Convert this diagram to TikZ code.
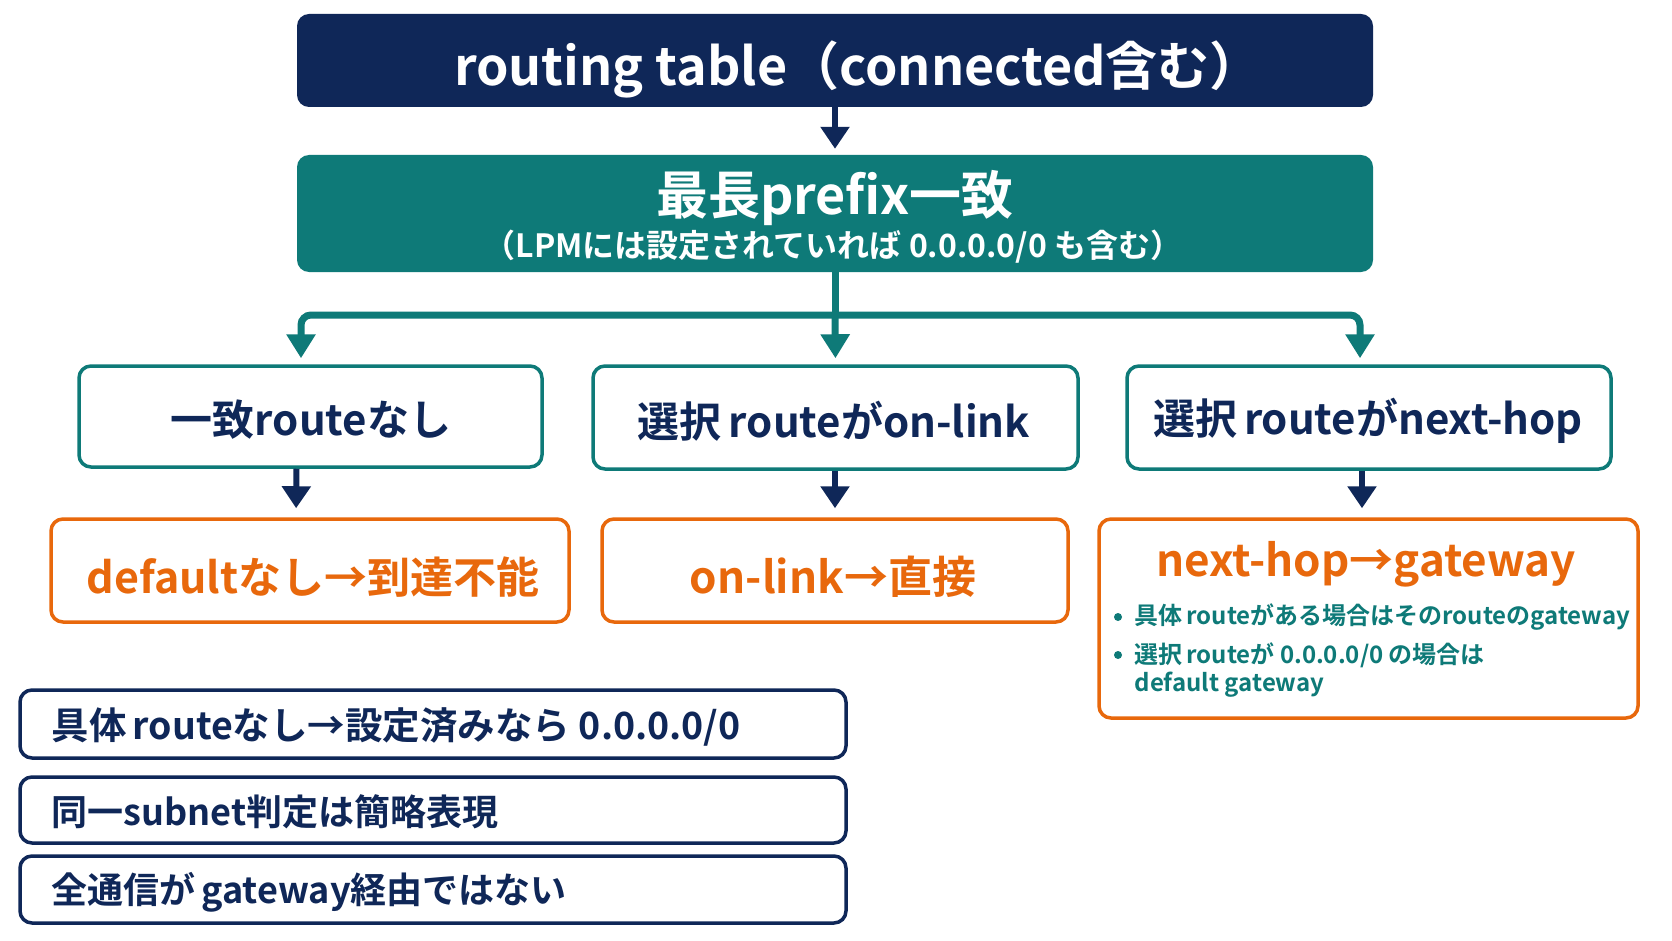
\documentclass[tikz,border=0pt]{standalone}
\usepackage{fontspec}
\setmainfont{Noto Sans CJK JP}[BoldFont={Noto Sans CJK JP Bold}]
\usetikzlibrary{arrows.meta}
\definecolor{navy}{HTML}{0F2758}
\definecolor{tealc}{HTML}{0E7A78}
\definecolor{orng}{HTML}{E8680C}
\tikzset{
  fs/.style={font=\fontsize{#1}{#1}\selectfont\bfseries},
  filledbox/.style={rounded corners=12pt, fill=#1, draw=none, inner sep=0pt},
  outbox/.style={rounded corners=12pt, draw=#1, line width=3.5pt, fill=white, inner sep=0pt},
  tealconn/.style={draw=tealc, line width=7pt},
  tealarrow/.style={draw=tealc, line width=7pt, -{Triangle[width=28pt,length=24pt]}},
  navyarrow/.style={draw=navy, line width=6pt, -{Triangle[width=28pt,length=22pt]}},
}
\begin{document}
\begin{tikzpicture}[x=1pt,y=-1pt]
\useasboundingbox (0,0) rectangle (1672,941);
\fill[white] (0,0) rectangle (1672,941);
% top
\node[filledbox=navy, minimum width=1076pt, minimum height=93pt] (top) at (835,60.5) {};
\node[fs=52, text=white] (toptxt) at (858,69) {routing table（connected含む）};
% lpm
\node[filledbox=tealc, minimum width=1076pt, minimum height=117pt] (lpm) at (835,213.5) {};
\node[fs=52, text=white] (lpmt) at (835,198) {最長prefix一致};
\node[fs=32, text=white] (lpms) at (833,247) {（LPMには設定されていれば 0.0.0.0/0 も含む）};
% row boxes
\node[outbox=tealc, minimum width=463pt, minimum height=101pt] (r1) at (310.5,416.5) {};
\node[outbox=tealc, minimum width=485pt, minimum height=103pt] (r2) at (835.5,417.5) {};
\node[outbox=tealc, minimum width=484pt, minimum height=103pt] (r3) at (1369,417.5) {};
\node[fs=42, text=navy] (r1t) at (311,420) {一致routeなし};
\node[fs=42, text=navy] (r2t) at (834,421) {選択\,routeがon-link};
\node[fs=42, text=navy] (r3t) at (1368,421) {選択\,routeがnext-hop};
% orange boxes
\node[outbox=orng, minimum width=518pt, minimum height=103pt] (o1) at (310,570.5) {};
\node[outbox=orng, minimum width=466pt, minimum height=103pt] (o2) at (835,570.5) {};
\node[outbox=orng, minimum width=539pt, minimum height=199pt] (o3) at (1368.5,618.5) {};
\node[fs=43, text=orng] (o1t) at (313,577) {defaultなし→到達不能};
\node[fs=44, text=orng] (o2t) at (833,577) {on-link→直接};
\node[fs=44, text=orng] (o3t) at (1366,564) {next-hop→gateway};
\node[fs=24, text=tealc, anchor=west] (o3b1) at (1131,617) {具体\,routeがある場合はそのrouteのgateway};
\node[fs=24, text=tealc, anchor=west] (o3b2) at (1131,655) {選択\,routeが 0.0.0.0/0 の場合は};
\node[fs=24, text=tealc, anchor=west] (o3b3) at (1131,685) {default gateway};
\fill[tealc] (1118,617) circle (4pt);
\fill[tealc] (1118,655) circle (4pt);
% bottom boxes
\node[outbox=navy, minimum width=826pt, minimum height=68pt] (b1) at (433,724) {};
\node[outbox=navy, minimum width=826pt, minimum height=66pt] (b2) at (433,810) {};
\node[outbox=navy, minimum width=826pt, minimum height=67pt] (b3) at (433,889.5) {};
\node[fs=37.5, text=navy, anchor=west] (b1t) at (48,727) {具体\,routeなし→設定済みなら 0.0.0.0/0};
\node[fs=36, text=navy, anchor=west] (b2t) at (48,812) {同一subnet判定は簡略表現};
\node[fs=36, text=navy, anchor=west] (b3t) at (48,892) {全通信が\,gateway経由ではない};
% connectors
\draw[navyarrow, shorten >=6pt] (top.south) -- (lpm.north);
\coordinate (jn) at (835,315);
\draw[tealconn] (lpm.south) -- (jn);
\draw[tealarrow, rounded corners=10pt, shorten >=6pt] (jn) -- (301,315) -- ([xshift=-9.5pt]r1.north);
\draw[tealarrow, shorten >=6pt] (jn) -- (r2.north);
\draw[tealarrow, rounded corners=10pt, shorten >=6pt] (jn) -- (1360,315) -- ([xshift=-9pt]r3.north);
\draw[navyarrow, shorten >=9pt] ([xshift=-14pt]r1.south) -- ([xshift=-14pt]o1.north);
\draw[navyarrow, shorten >=9pt] ([xshift=-0.5pt]r2.south) -- (o2.north);
\draw[navyarrow, shorten >=9pt] ([xshift=-7pt]r3.south) -- ([xshift=-6.5pt]o3.north);
\end{tikzpicture}
\end{document}
